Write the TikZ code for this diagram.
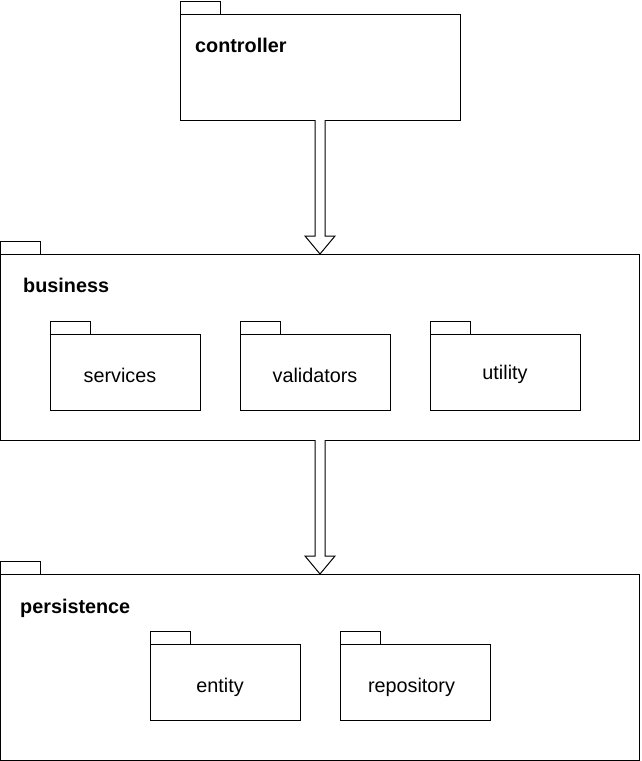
\documentclass[tikz,border=0pt]{standalone}
\usepackage{fontspec}
\setmainfont{Liberation Sans}
\usepackage{tikz}
\usetikzlibrary{calc,positioning}

\tikzset{
  pkg/.style={draw, line width=1pt, fill=white, inner sep=0pt, outer sep=0pt,
    font=\fontsize{19.8}{23}\selectfont, text height=22pt, text depth=2pt},
  pkgtab/.style={draw, line width=1pt, minimum width=40pt, minimum height=13pt,
    inner sep=0pt, outer sep=0pt, anchor=south west},
  pkgname/.style={font=\fontsize{19.8}{23}\selectfont\bfseries, anchor=base west, inner sep=0pt},
  small/.style={pkg, minimum width=150pt, minimum height=76pt}
}

% hollow block arrow from one package down to the next
\newcommand{\pkgarrow}[2]{%
  \draw[line width=1pt, fill=white] ($(#1.south)+(-5,0)$) -- ($(#2.north)+(-5,-18)$)
    -- ($(#2.north)+(-15,-18)$) -- (#2.north) -- ($(#2.north)+(15,-18)$)
    -- ($(#2.north)+(5,-18)$) -- ($(#1.south)+(5,0)$);}

\begin{document}
\begin{tikzpicture}[x=1pt,y=-1pt]
    \useasboundingbox (0,0) rectangle (641,761);

    \node[pkg, anchor=north west, minimum width=280pt, minimum height=106pt] (controller) at (180,14) {};
    \node[pkgtab] (controllertab) at (controller.north west) {};
    \node[pkgname] (controllername) at (195,52) {controller};

    \node[pkg, anchor=north west, minimum width=639pt, minimum height=186pt] (business) at (0.5,254) {};
    \node[pkgtab] (businesstab) at (business.north west) {};
    \node[pkgname] (businessname) at (23,292) {business};

    \node[small, anchor=north west] (services) at (50,334) {services\kern10pt};
    \node[small, right=40pt of services] (validators) {validators};
    \node[small, right=40pt of validators, text height=16pt] (utility) {utility};
    \node[pkgtab] (servicestab) at (services.north west) {};
    \node[pkgtab] (validatorstab) at (validators.north west) {};
    \node[pkgtab] (utilitytab) at (utility.north west) {};

    \node[pkg, anchor=north west, minimum width=639pt, minimum height=186pt] (persistence) at (0.5,574) {};
    \node[pkgtab] (persistencetab) at (persistence.north west) {};
    \node[pkgname] (persistencename) at (20,613) {persistence};

    \node[small, anchor=north west] (entity) at (150,644) {entity\kern10pt};
    \node[small, right=40pt of entity] (repository) {repository\kern7pt};
    \node[pkgtab] (entitytab) at (entity.north west) {};
    \node[pkgtab] (repositorytab) at (repository.north west) {};

    \pkgarrow{controller}{business}
    \pkgarrow{business}{persistence}
\end{tikzpicture}
\end{document}
